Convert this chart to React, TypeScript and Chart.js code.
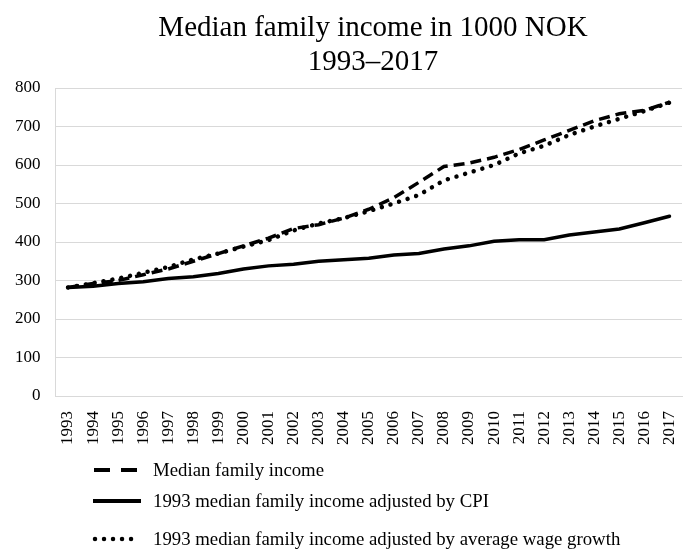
import React, { useEffect, useRef } from "react";
import { Chart, registerables } from "chart.js";

Chart.register(...registerables);

const years = [
  "1993", "1994", "1995", "1996", "1997", "1998", "1999", "2000", "2001", "2002",
  "2003", "2004", "2005", "2006", "2007", "2008", "2009", "2010", "2011", "2012",
  "2013", "2014", "2015", "2016", "2017",
];

const medianIncome = [
  282, 292, 300, 315, 330, 350, 370, 390, 410, 435,
  445, 462, 485, 515, 555, 596, 605, 620, 640, 665,
  690, 715, 733, 742, 763,
];

const cpiAdjusted = [
  282, 285, 292, 297, 305, 310, 318, 330, 338, 342,
  350, 354, 358, 366, 370, 382, 390, 402, 406, 406,
  418, 426, 434, 450, 467,
];

const wageAdjusted = [
  282, 293, 305, 320, 335, 355, 370, 388, 405, 430,
  448, 462, 480, 500, 522, 560, 580, 600, 630, 650,
  678, 700, 720, 740, 762,
];

const seriesNames = [
  "Median family income",
  "1993 median family income adjusted by CPI",
  "1993 median family income adjusted by average wage growth",
];

const titleLines = ["Median family income in 1000 NOK", "1993\u20132017"];

const FONT = "'Liberation Serif', 'Times New Roman', serif";
const GRID = "#d9d9d9";

export default function App() {
  const canvasRef = useRef<HTMLCanvasElement | null>(null);

  useEffect(() => {
    document.body.style.margin = "0";
    const canvas = canvasRef.current;
    if (!canvas) return;
    const chart = new Chart(canvas, {
      type: "line",
      data: {
        labels: years,
        datasets: [
          {
            label: seriesNames[0],
            data: medianIncome,
            borderColor: "#000",
            borderWidth: 3.5,
            borderDash: [11, 6],
            pointRadius: 0,
            tension: 0,
            fill: false,
          },
          {
            label: seriesNames[1],
            data: cpiAdjusted,
            borderColor: "#000",
            borderWidth: 3.5,
            pointRadius: 0,
            tension: 0,
            borderCapStyle: "round",
            fill: false,
          },
          {
            label: seriesNames[2],
            data: wageAdjusted,
            borderColor: "#000",
            borderWidth: 4.5,
            borderDash: [0.01, 9],
            borderCapStyle: "round",
            pointRadius: 0,
            tension: 0,
            fill: false,
          },
        ],
      },
      options: {
        animation: false,
        responsive: false,
        maintainAspectRatio: false,
        layout: { padding: { top: 88, left: 0, right: 4, bottom: 101 } },
        plugins: {
          legend: { display: false },
          title: { display: false },
          tooltip: { enabled: false },
        },
        scales: {
          x: {
            offset: true,
            grid: { display: false },
            border: { display: true, color: GRID, width: 1 },
            afterFit: (scale: any) => {
              scale.paddingLeft = 0;
              scale.paddingRight = 0;
            },
            ticks: {
              color: "#000",
              font: { family: FONT, size: 17 },
              minRotation: 90,
              maxRotation: 90,
              padding: 7,
              autoSkip: false,
            },
          },
          y: {
            min: 0,
            max: 800,
            grid: { color: GRID, lineWidth: 1, drawTicks: false },
            border: { display: true, color: GRID, width: 1 },
            ticks: {
              stepSize: 100,
              color: "#000",
              font: { family: FONT, size: 17 },
              padding: 15,
            },
          },
        },
      },
    });
    return () => chart.destroy();
  }, []);

  const legendSamples = [
    <line key="d" x1="2" y1="6" x2="48" y2="6" stroke="#000" strokeWidth="4" strokeDasharray="16 11" />,
    <line key="s" x1="1" y1="6" x2="49" y2="6" stroke="#000" strokeWidth="4" />,
    <line key="p" x1="3" y1="6" x2="48" y2="6" stroke="#000" strokeWidth="4.5" strokeLinecap="round" strokeDasharray="0.01 9" />,
  ];
  const legendTops = [458, 489, 527];

  return (
    <div style={{ position: "relative", width: 686, height: 553, background: "#fff", fontFamily: FONT }}>
      <canvas ref={canvasRef} width={686} height={553} style={{ position: "absolute", left: 0, top: 0 }} />
      <div
        style={{
          position: "absolute",
          left: 60,
          right: 0,
          top: 9,
          textAlign: "center",
          fontSize: 29,
          lineHeight: "34px",
          color: "#000",
        }}
      >
        {titleLines.map((t) => (
          <div key={t}>{t}</div>
        ))}
      </div>
      {seriesNames.map((name, i) => (
        <div
          key={name}
          style={{
            position: "absolute",
            left: 92,
            top: legendTops[i],
            height: 24,
            display: "flex",
            alignItems: "center",
            fontSize: 18.8,
            color: "#000",
            whiteSpace: "nowrap",
          }}
        >
          <svg width="52" height="12" style={{ marginRight: 9 }}>
            {legendSamples[i]}
          </svg>
          <span>{name}</span>
        </div>
      ))}
    </div>
  );
}
